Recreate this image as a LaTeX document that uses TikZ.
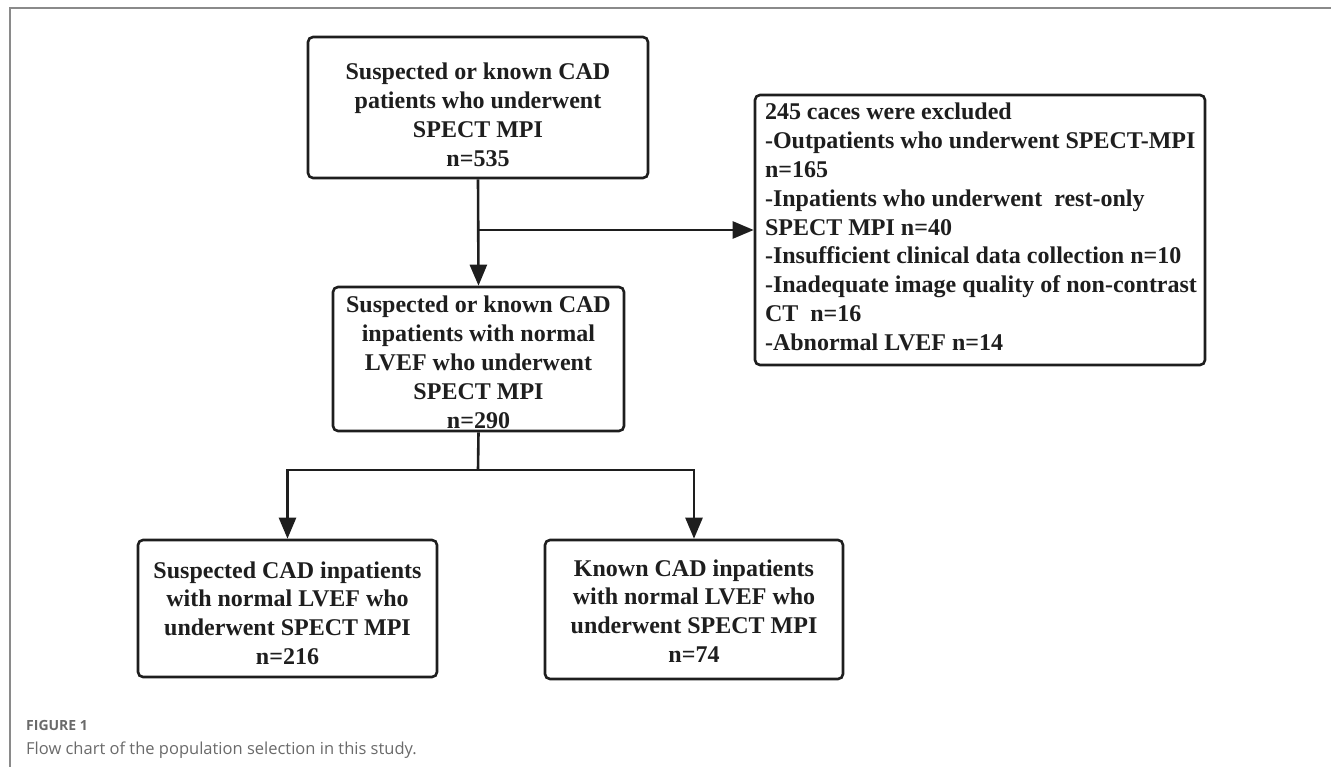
\documentclass[tikz,border=0pt]{standalone}
\usepackage{fontspec}
\setmainfont{Liberation Serif}
\newfontfamily\capfont{Open Sans}
\usetikzlibrary{arrows.meta}
\definecolor{ink}{HTML}{1E1E1E}
\definecolor{capgray}{HTML}{6A6A6A}
\definecolor{framegray}{HTML}{8A8A8A}
\newcommand\cboxtext[4]{\parbox[c][#2][t]{#1}{\centering\rule{0pt}{#3}#4}}
\begin{document}
\begin{tikzpicture}[x=1pt,y=-1pt,
  flowbox/.style={draw=ink, text=ink, line width=2.6pt, rounded corners=5pt, inner sep=0pt,
    font=\bfseries\fontsize{24}{28.8}\selectfont},
  conn/.style={draw=ink, line width=2.6pt},
  tip/.style={-{Triangle[length=21pt,width=17pt]}}
]
\useasboundingbox (0,0) rectangle (1331,767);
\draw[framegray, line width=1.2pt] (10,767) -- (10,8) -- (1331,8);

\node[flowbox] (top) at (478,107.5)
  {\cboxtext{340pt}{141pt}{43pt}{Suspected or known CAD\\patients who underwent\\SPECT MPI\\n=535}};
\node[flowbox] (excl) at (980,230)
  {\parbox[c][270pt][t]{450pt}{\raggedright\leftskip=10pt\rule{0pt}{25pt}245 caces were excluded\\
  -Outpatients who underwent SPECT-MPI\\
  n=165\\
  -Inpatients who underwent\ \ rest-only\\
  SPECT MPI n=40\\
  -Insufficient clinical data collection n=10\\
  -Inadequate image quality of non-contrast\\
  CT\ \ n=16\\
  -Abnormal LVEF n=14}};
\node[flowbox] (mid) at (478.5,359)
  {\cboxtext{291pt}{144pt}{26pt}{Suspected or known CAD\\inpatients with normal\\LVEF who underwent\\SPECT MPI\\n=290}};
\node[flowbox] (susp) at (287.5,608.5)
  {\cboxtext{299pt}{137pt}{38pt}{Suspected CAD inpatients\\with normal LVEF who\\underwent SPECT MPI\\n=216}};
\node[flowbox] (known) at (694,609.5)
  {\cboxtext{298pt}{139pt}{36pt}{Known CAD inpatients\\with normal LVEF who\\underwent SPECT MPI\\n=74}};

\coordinate (br1) at (top.south |- excl.west);
\coordinate (br2) at (478,470);
\draw[conn, tip] (top.south) -- (mid.north);
\draw[conn, tip] (br1) -- (excl.west);
\draw[conn] (mid.south) -- (br2);
\draw[conn, tip] (br2) -| (susp.north);
\draw[conn, tip] (br2) -| (known.north);

\node[anchor=base west, inner sep=0pt, text=capgray, font=\capfont\bfseries\fontsize{14}{16}\selectfont] (figlabel) at (26,730) {FIGURE 1};
\node[anchor=base west, inner sep=0pt, text=capgray, font=\capfont\fontsize{16.5}{20}\selectfont] (caption) at (26,754) {Flow chart of the population selection in this study.};
\end{tikzpicture}
\end{document}
